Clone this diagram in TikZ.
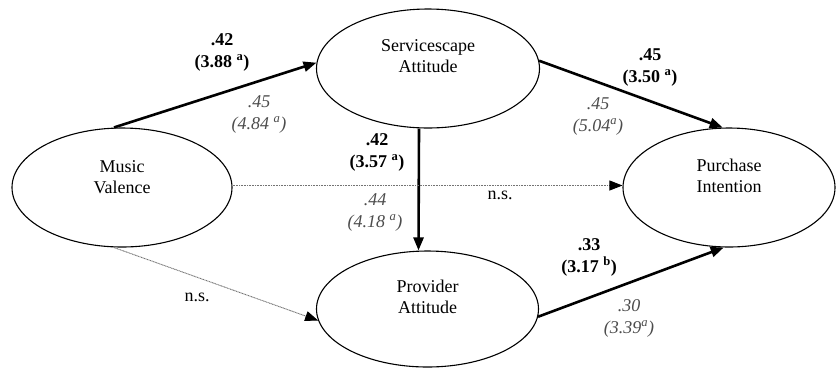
\documentclass[tikz,border=0pt]{standalone}
\usepackage{fontspec}
\setmainfont{Liberation Serif}
\newfontfamily\timesfont{Liberation Serif}
\usetikzlibrary{shapes.geometric,arrows.meta}
\begin{document}
\begin{tikzpicture}[x=1pt,y=-1pt,
  construct/.style={ellipse,draw,line width=1.1pt,inner sep=0pt},
  ctext/.style={align=center,font=\timesfont\fontsize{18}{21}\selectfont},
  strong/.style={line width=2.6pt,-{Triangle[length=13pt,width=10pt]}},
  weak/.style={line width=0.9pt,black!55,dash pattern=on 1pt off 0.6pt,-{Triangle[length=13pt,width=10pt,black]}},
  blab/.style={align=center,font=\timesfont\fontsize{18}{22}\selectfont\bfseries},
  ilab/.style={align=center,font=\timesfont\fontsize{18}{22}\selectfont\itshape,text=black!70},
  nslab/.style={font=\timesfont\fontsize{18}{21}\selectfont}]
\useasboundingbox (0,0) rectangle (837,368);
% constructs
\node[construct,minimum width=220pt,minimum height=119pt] (mv) at (122,187.5) {};
\node[construct,minimum width=223pt,minimum height=119pt] (sa) at (428,68.5) {};
\node[construct,minimum width=212pt,minimum height=119pt] (pi) at (729,187.5) {};
\node[construct,minimum width=222pt,minimum height=116pt] (pa) at (427.5,309) {};
\node[ctext] (mvt) at (122,177) {Music\\Valence};
\node[ctext] (sat) at (428,56) {Servicescape\\Attitude};
\node[ctext] (pit) at (729,176) {Purchase\\Intention};
\node[ctext] (pat) at (427.5,297) {Provider\\Attitude};
% paths
\draw[strong] ([xshift=-8pt]mv.north) -- (sa.177);
\draw[strong] (sa.4) -- (pi.96);
\draw[strong] ([xshift=-9pt]sa.south) -- ([xshift=-9pt]pa.north);
\draw[strong] (pa.-4) -- (pi.265);
\draw[weak] ([yshift=2pt]mv.east) -- ([yshift=2pt]pi.west);
\draw[weak] ([xshift=-8pt]mv.south) -- (pa.186);
% labels
\node[blab] (l1b) at (222,52) {.42\\(3.88 \textsuperscript{a})};
\node[ilab] (l1i) at (259,114) {.45\\(4.84 \textsuperscript{a})};
\node[blab] (l2b) at (377,152) {.42\\(3.57 \textsuperscript{a})};
\node[ilab] (l2i) at (375,212) {.44\\(4.18 \textsuperscript{a})};
\node[blab] (l3b) at (650,67) {.45\\(3.50 \textsuperscript{a})};
\node[ilab] (l3i) at (598,116) {.45\\(5.04\textsuperscript{a})};
\node[blab] (l4b) at (589,257) {.33\\(3.17 \textsuperscript{b})};
\node[ilab] (l4i) at (629,318) {.30\\(3.39\textsuperscript{a})};
\node[nslab] (ns1) at (500,195) {n.s.};
\node[nslab] (ns2) at (197,297) {n.s.};
\end{tikzpicture}
\end{document}
